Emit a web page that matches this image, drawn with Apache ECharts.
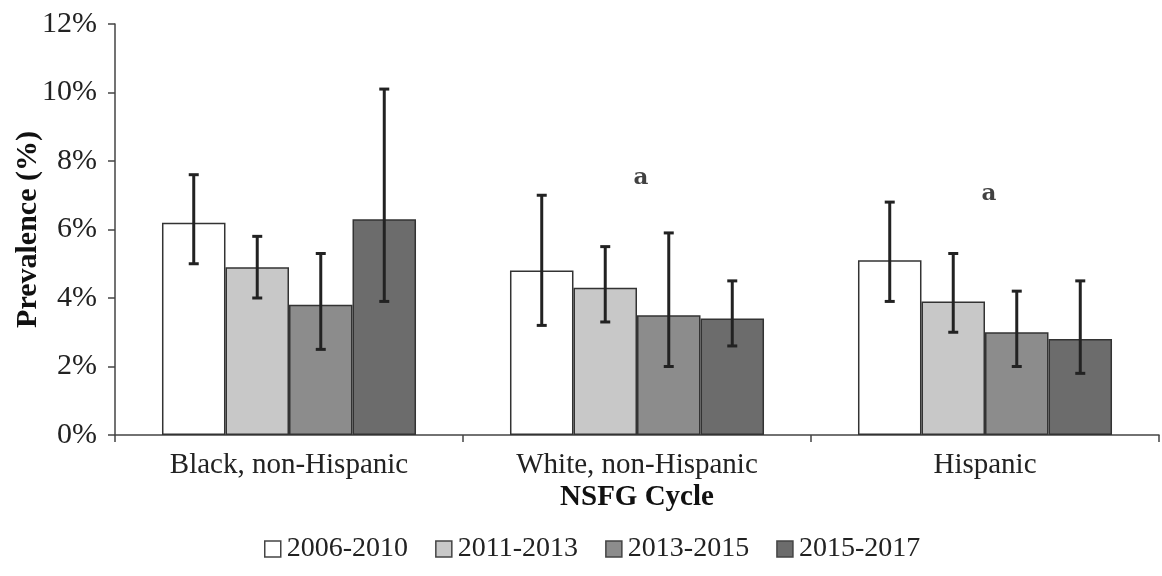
<!DOCTYPE html>
<html>
<head>
<meta charset="utf-8">
<script src="https://cdn.jsdelivr.net/npm/echarts@6/dist/echarts.min.js"></script>
<style>html,body{margin:0;padding:0;background:#fff}#c{width:1162px;height:576px}</style>
</head>
<body>
<div id="c"></div>
<script>
const categories = ['Black, non-Hispanic', 'White, non-Hispanic', 'Hispanic'];
const seriesNames = ['2006-2010', '2011-2013', '2013-2015', '2015-2017'];
const v2006 = [6.2, 4.8, 5.1];
const v2011 = [4.9, 4.3, 3.9];
const v2013 = [3.8, 3.5, 3.0];
const v2015 = [6.3, 3.4, 2.8];
const lo2006 = [5.0, 3.2, 3.9];
const hi2006 = [7.6, 7.0, 6.8];
const lo2011 = [4.0, 3.3, 3.0];
const hi2011 = [5.8, 5.5, 5.3];
const lo2013 = [2.5, 2.0, 2.0];
const hi2013 = [5.3, 5.9, 4.2];
const lo2015 = [3.9, 2.6, 1.8];
const hi2015 = [10.1, 4.5, 4.5];
const annotCats = ['White, non-Hispanic', 'Hispanic'];
const annotVals = [7.5, 7.05];
const annotText = ['a', 'a'];
const yTicks = [0, 2, 4, 6, 8, 10, 12];

const values = [v2006, v2011, v2013, v2015];
const lows = [lo2006, lo2011, lo2013, lo2015];
const highs = [hi2006, hi2011, hi2013, hi2015];
const colors = ['#ffffff', '#c8c8c8', '#8c8c8c', '#6c6c6c'];
const catGap = 0.27;
const FONT = '"Liberation Serif", "DejaVu Serif", serif';

const series = [];
seriesNames.forEach((name, i) => {
  series.push({
    name: name, type: 'bar', data: values[i],
    barGap: '0%', barCategoryGap: (catGap * 100) + '%',
    itemStyle: { color: colors[i], borderColor: '#333', borderWidth: 1.5 },
    silent: true
  });
});
seriesNames.forEach((name, i) => {
  series.push({
    type: 'custom',
    data: categories.map((c, k) => [k, lows[i][k], highs[i][k]]),
    renderItem: function (params, api) {
      const k = api.value(0);
      const band = api.size([1, 0])[0];
      const bw = band * (1 - catGap) / seriesNames.length;
      const base = api.coord([k, 0]);
      const x = base[0] + (i - (seriesNames.length - 1) / 2) * bw;
      const yl = api.coord([k, api.value(1)])[1];
      const yh = api.coord([k, api.value(2)])[1];
      const cap = 5;
      const st = { stroke: '#222', lineWidth: 3 };
      return { type: 'group', children: [
        { type: 'line', shape: { x1: x, y1: yl, x2: x, y2: yh }, style: st },
        { type: 'line', shape: { x1: x - cap, y1: yl, x2: x + cap, y2: yl }, style: st },
        { type: 'line', shape: { x1: x - cap, y1: yh, x2: x + cap, y2: yh }, style: st }
      ]};
    },
    z: 10, silent: true
  });
});
series.push({
  type: 'scatter',
  data: annotCats.map((c, k) => ({ value: [c, annotVals[k]], label: { formatter: annotText[k] } })),
  symbolSize: 0,
  label: { show: true, position: 'inside', offset: [4, 0], color: '#111', fontFamily: '"DejaVu Serif", serif', fontWeight: 'bold', fontSize: 23 },
  silent: true, z: 11
});

const chart = echarts.init(document.getElementById('c'), null, { renderer: 'canvas' });
chart.setOption({
  animation: false,
  backgroundColor: '#fff',
  grid: { left: 115, right: 3, top: 24, bottom: 141, containLabel: false, outerBoundsMode: 'none' },
  legend: {
    data: seriesNames,
    bottom: 8, left: 259,
    itemWidth: 16, itemHeight: 16, itemGap: 27,
    icon: 'rect',
    itemStyle: { borderColor: '#444', borderWidth: 1.5 },
    textStyle: { fontFamily: FONT, fontSize: 28, color: '#222', padding: [0, 0, 0, 1] }
  },
  xAxis: {
    type: 'category', data: categories,
    name: 'NSFG Cycle', nameLocation: 'middle', nameGap: 48, nameMoveOverlap: false,
    nameTextStyle: { fontFamily: FONT, fontSize: 29, fontWeight: 'bold', color: '#111' },
    axisLine: { lineStyle: { color: '#444', width: 1.5 } },
    axisTick: { show: true, length: 7, lineStyle: { color: '#444', width: 1.5 } },
    axisLabel: { fontFamily: FONT, fontSize: 29, color: '#222', margin: 16 }
  },
  yAxis: {
    type: 'value', min: 0, max: 12, interval: 2,
    name: 'Prevalence (%)', nameLocation: 'middle', nameGap: 72, nameRotate: 90, nameMoveOverlap: false,
    nameTextStyle: { fontFamily: FONT, fontSize: 30, fontWeight: 'bold', color: '#111' },
    axisLine: { show: true, lineStyle: { color: '#444', width: 1.5 } },
    axisTick: { show: true, length: 7, lineStyle: { color: '#444', width: 1.5 } },
    splitLine: { show: false },
    axisLabel: { fontFamily: FONT, fontSize: 30, color: '#222', margin: 18,
      formatter: v => yTicks.includes(v) ? v + '%' : '' }
  },
  series: series
});
</script>
</body>
</html>
